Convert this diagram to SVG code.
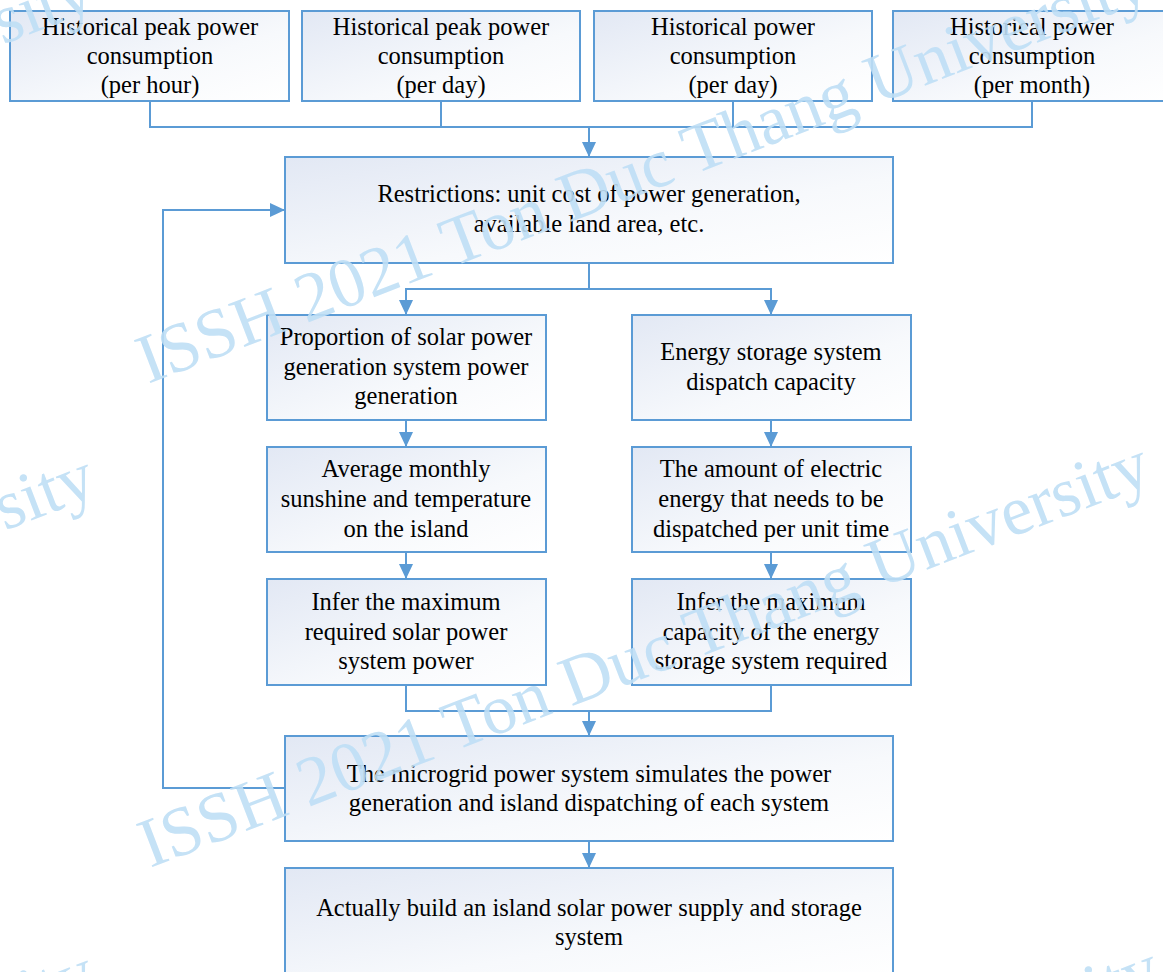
<svg xmlns="http://www.w3.org/2000/svg" width="1163" height="972" viewBox="0 0 1163 972">
  <defs>
    <linearGradient id="boxFill" x1="0" y1="0" x2="1" y2="1">
      <stop offset="0" stop-color="#e2e8f4"/>
      <stop offset="0.6" stop-color="#f7f9fc"/>
      <stop offset="1" stop-color="#ffffff"/>
    </linearGradient>
    <marker id="arrow" markerUnits="userSpaceOnUse" markerWidth="15" markerHeight="14" refX="15" refY="7" orient="auto">
      <path d="M0,0 L15,7 L0,14 z" fill="#5b9bd5"/>
    </marker>
  </defs>
  <style>
    .box { fill: url(#boxFill); stroke: #5b9bd5; stroke-width: 2; }
    .label { font-family: "Liberation Serif", "Times New Roman", serif; font-size: 24.5px; fill: #000000; text-anchor: middle; }
    .conn { fill: none; stroke: #5b9bd5; stroke-width: 2; }
    .watermark { font-family: "Liberation Serif", "Times New Roman", serif; font-size: 70px; fill: #bfdff6; opacity: 0.9; }
  </style>
  <rect width="1163" height="972" fill="#ffffff"/>

  <!-- connectors -->
  <g id="connectors">
    <polyline class="conn" points="150,101 150,127 1032,127 1032,101"/>
    <line class="conn" x1="441" y1="101" x2="441" y2="127"/>
    <line class="conn" x1="733" y1="101" x2="733" y2="127"/>
    <line class="conn" x1="589" y1="127" x2="589" y2="157" marker-end="url(#arrow)"/>
    <polyline class="conn" points="589,263 589,289 406,289 406,315" marker-end="url(#arrow)"/>
    <polyline class="conn" points="589,289 771,289 771,315" marker-end="url(#arrow)"/>
    <line class="conn" x1="406" y1="420" x2="406" y2="447" marker-end="url(#arrow)"/>
    <line class="conn" x1="771" y1="420" x2="771" y2="447" marker-end="url(#arrow)"/>
    <line class="conn" x1="406" y1="552" x2="406" y2="579" marker-end="url(#arrow)"/>
    <line class="conn" x1="771" y1="552" x2="771" y2="579" marker-end="url(#arrow)"/>
    <polyline class="conn" points="406,685 406,711 771,711 771,685"/>
    <line class="conn" x1="589" y1="711" x2="589" y2="736" marker-end="url(#arrow)"/>
    <line class="conn" x1="589" y1="841" x2="589" y2="868" marker-end="url(#arrow)"/>
    <polyline class="conn" points="285,788 163,788 163,210 285,210" marker-end="url(#arrow)"/>
  </g>

  <!-- input data boxes -->
  <g id="peak-hour">
    <rect class="box" x="10" y="11" width="279" height="90"/>
    <text class="label" x="150" y="35">Historical peak power</text>
    <text class="label" x="150" y="64">consumption</text>
    <text class="label" x="150" y="93">(per hour)</text>
  </g>
  <g id="peak-day">
    <rect class="box" x="302" y="11" width="278" height="90"/>
    <text class="label" x="441" y="35">Historical peak power</text>
    <text class="label" x="441" y="64">consumption</text>
    <text class="label" x="441" y="93">(per day)</text>
  </g>
  <g id="power-day">
    <rect class="box" x="594" y="11" width="278" height="90"/>
    <text class="label" x="733" y="35">Historical power</text>
    <text class="label" x="733" y="64">consumption</text>
    <text class="label" x="733" y="93">(per day)</text>
  </g>
  <g id="power-month">
    <rect class="box" x="893" y="11" width="279" height="90"/>
    <text class="label" x="1032" y="35">Historical power</text>
    <text class="label" x="1032" y="64">consumption</text>
    <text class="label" x="1032" y="93">(per month)</text>
  </g>

  <g id="restrictions">
    <rect class="box" x="285" y="157" width="608" height="106"/>
    <text class="label" x="589" y="202">Restrictions: unit cost of power generation,</text>
    <text class="label" x="589" y="232">available land area, etc.</text>
  </g>

  <!-- solar branch -->
  <g id="solar-proportion">
    <rect class="box" x="267" y="315" width="279" height="105"/>
    <text class="label" x="406" y="345">Proportion of solar power</text>
    <text class="label" x="406" y="375">generation system power</text>
    <text class="label" x="406" y="404">generation</text>
  </g>
  <g id="sunshine">
    <rect class="box" x="267" y="447" width="279" height="105"/>
    <text class="label" x="406" y="477">Average monthly</text>
    <text class="label" x="406" y="507">sunshine and temperature</text>
    <text class="label" x="406" y="537">on the island</text>
  </g>
  <g id="solar-max">
    <rect class="box" x="267" y="579" width="279" height="106"/>
    <text class="label" x="406" y="610">Infer the maximum</text>
    <text class="label" x="406" y="640">required solar power</text>
    <text class="label" x="406" y="669">system power</text>
  </g>

  <!-- storage branch -->
  <g id="storage-dispatch">
    <rect class="box" x="632" y="315" width="279" height="105"/>
    <text class="label" x="771" y="360">Energy storage system</text>
    <text class="label" x="771" y="390">dispatch capacity</text>
  </g>
  <g id="dispatch-amount">
    <rect class="box" x="632" y="447" width="279" height="105"/>
    <text class="label" x="771" y="477">The amount of electric</text>
    <text class="label" x="771" y="507">energy that needs to be</text>
    <text class="label" x="771" y="537">dispatched per unit time</text>
  </g>
  <g id="storage-max">
    <rect class="box" x="632" y="579" width="279" height="106"/>
    <text class="label" x="771" y="610">Infer the maximum</text>
    <text class="label" x="771" y="640">capacity of the energy</text>
    <text class="label" x="771" y="669">storage system required</text>
  </g>

  <g id="simulation">
    <rect class="box" x="285" y="736" width="608" height="105"/>
    <text class="label" x="589" y="782">The microgrid power system simulates the power</text>
    <text class="label" x="589" y="811">generation and island dispatching of each system</text>
  </g>

  <g id="build">
    <rect class="box" x="285" y="868" width="608" height="110"/>
    <text class="label" x="589" y="916">Actually build an island solar power supply and storage</text>
    <text class="label" x="589" y="945">system</text>
  </g>

  <!-- watermark -->
  <g id="watermark">
    <text class="watermark" transform="translate(148,384) rotate(-21)">ISSH 2021 Ton Duc Thang University</text>
    <text class="watermark" transform="translate(150,868) rotate(-21)">ISSH 2021 Ton Duc Thang University</text>
    <text class="watermark" transform="translate(160,1372) rotate(-21)">ISSH 2021 Ton Duc Thang University</text>
    <text class="watermark" transform="translate(-907,394) rotate(-21)">ISSH 2021 Ton Duc Thang University</text>
    <text class="watermark" transform="translate(-905,880) rotate(-21)">ISSH 2021 Ton Duc Thang University</text>
    <text class="watermark" transform="translate(-905,1376) rotate(-21)">ISSH 2021 Ton Duc Thang University</text>
  </g>
</svg>
